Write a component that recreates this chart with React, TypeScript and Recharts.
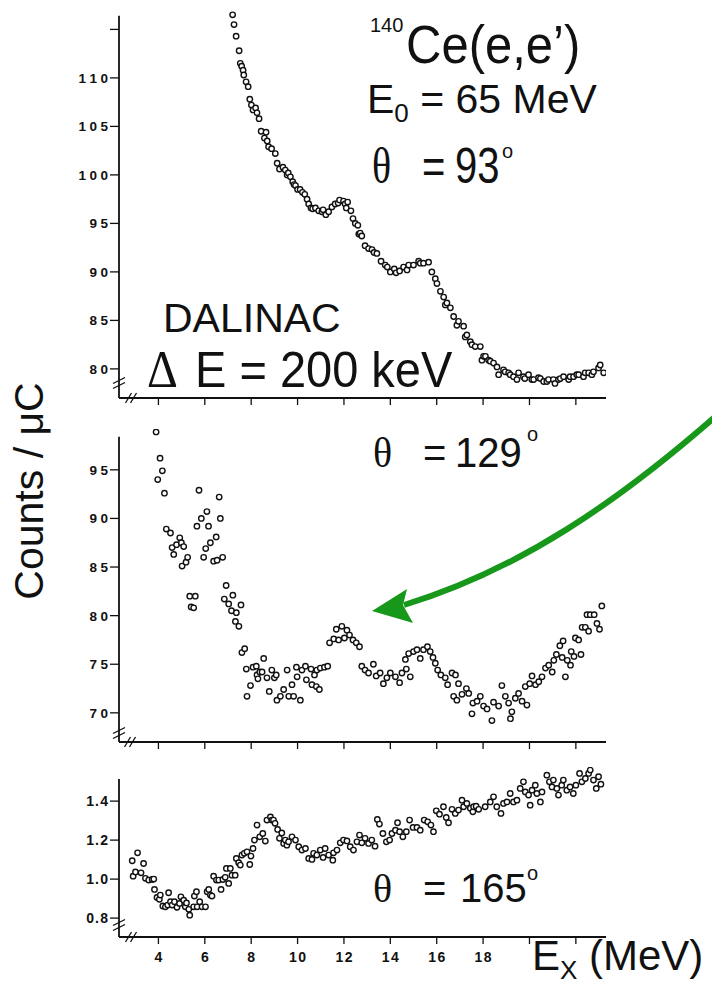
import { ScatterChart, Scatter, XAxis, YAxis, ReferenceLine } from "recharts";

// excitation energy (MeV) and counts/uC
const EX_93 = [
  7.2, 7.26, 7.35, 7.48, 7.53, 7.59, 7.65, 7.68, 7.78, 7.87, 7.94, 8.01, 8.08, 8.19, 8.25, 8.34, 8.43, 8.57,
  8.64, 8.69, 8.75, 8.88, 9.04, 9.12, 9.22, 9.37, 9.47, 9.55, 9.6, 9.69, 9.79, 9.85, 9.91, 10.0, 10.11, 10.21,
  10.31, 10.41, 10.48, 10.58, 10.65, 10.77, 10.91, 11.05, 11.1, 11.22, 11.34, 11.48, 11.62, 11.75, 11.81, 11.98,
  12.05, 12.1, 12.16, 12.3, 12.39, 12.49, 12.6, 12.64, 12.7, 12.77, 12.91, 13.06, 13.21, 13.3, 13.42, 13.6,
  13.78, 13.87, 14.0, 14.17, 14.25, 14.4, 14.57, 14.72, 14.79, 15.0, 15.22, 15.29, 15.43, 15.65, 15.79, 15.94,
  16.01, 16.16, 16.3, 16.37, 16.44, 16.59, 16.73, 16.87, 16.94, 17.16, 17.23, 17.3, 17.45, 17.52, 17.66, 17.88,
  17.95, 18.02, 18.1, 18.24, 18.31, 18.45, 18.6, 18.67, 18.88, 18.95, 19.1, 19.17, 19.31, 19.46, 19.53, 19.74,
  19.8, 19.96, 20.1, 20.18, 20.39, 20.47, 20.61, 20.75, 20.82, 21.03, 21.1, 21.25, 21.33, 21.47, 21.69, 21.75,
  21.9, 22.04, 22.12, 22.33, 22.4, 22.55, 22.69, 22.76, 22.98, 23.05, 23.2,
];
const CNT_93 = [
  116.5, 115.5, 114.3, 112.8, 111.5, 111.2, 110.8, 110.3, 109.6, 109.1, 107.8, 107.2, 106.7, 106.9, 106.4, 105.8,
  104.5, 103.8, 104.4, 103.5, 102.9, 102.7, 102.2, 101.2, 100.6, 100.8, 100.5, 100.0, 100.2, 99.8, 99.3, 99.0,
  98.9, 98.5, 98.5, 98.2, 98.0, 97.5, 97.0, 96.6, 96.5, 96.6, 96.3, 96.2, 96.4, 95.9, 96.2, 96.7, 97.0, 97.1,
  97.4, 97.3, 97.0, 96.6, 97.2, 96.3, 95.5, 95.0, 94.8, 93.9, 94.0, 93.7, 92.7, 92.4, 92.3, 92.0, 91.9, 91.1,
  90.7, 90.5, 90.0, 90.3, 89.9, 90.1, 90.5, 90.2, 90.7, 90.7, 91.1, 90.9, 90.9, 91.0, 90.0, 89.3, 88.8, 88.0,
  87.4, 86.6, 86.8, 86.3, 85.4, 84.5, 84.9, 84.4, 83.3, 83.5, 82.8, 82.5, 82.3, 82.3, 80.9, 81.3, 81.3, 80.9,
  80.8, 80.6, 80.2, 79.4, 79.9, 79.7, 79.6, 79.4, 79.2, 78.9, 79.6, 79.2, 79.0, 79.4, 78.9, 78.9, 79.1, 79.0,
  78.7, 78.7, 78.9, 78.9, 78.5, 78.9, 79.0, 79.2, 78.9, 79.2, 79.2, 79.4, 79.4, 79.2, 79.6, 79.6, 79.4, 79.7,
  80.1, 80.4, 79.6,
];

const EX_129 = [
  3.9, 3.97, 4.07, 4.17, 4.26, 4.34, 4.52, 4.59, 4.66, 4.78, 4.92, 4.99, 5.02, 5.09, 5.19, 5.26, 5.35, 5.41,
  5.52, 5.59, 5.66, 5.75, 5.85, 5.95, 6.04, 6.09, 6.16, 6.24, 6.38, 6.49, 6.53, 6.62, 6.67, 6.77, 6.84, 6.92,
  7.03, 7.15, 7.21, 7.32, 7.36, 7.47, 7.56, 7.6, 7.72, 7.79, 7.82, 7.97, 8.08, 8.22, 8.25, 8.29, 8.37, 8.47,
  8.54, 8.68, 8.78, 8.89, 9.0, 9.08, 9.11, 9.26, 9.4, 9.55, 9.62, 9.76, 9.83, 9.95, 9.98, 10.12, 10.19, 10.34,
  10.38, 10.58, 10.62, 10.73, 10.81, 10.83, 10.94, 10.98, 11.16, 11.3, 11.38, 11.56, 11.67, 11.77, 11.91, 12.02,
  12.13, 12.24, 12.39, 12.53, 12.67, 12.77, 12.91, 13.06, 13.27, 13.39, 13.56, 13.7, 13.85, 14.0, 14.22, 14.4,
  14.5, 14.65, 14.69, 14.79, 14.86, 15.0, 15.15, 15.29, 15.43, 15.6, 15.72, 15.84, 15.94, 16.04, 16.18, 16.37,
  16.47, 16.66, 16.73, 16.81, 16.87, 16.94, 17.09, 17.28, 17.38, 17.52, 17.56, 17.74, 17.88, 18.02, 18.17,
  18.38, 18.45, 18.67, 18.81, 18.96, 19.1, 19.18, 19.24, 19.39, 19.53, 19.68, 19.82, 19.89, 20.01, 20.11,
  20.26, 20.4, 20.54, 20.69, 20.83, 20.98, 21.05, 21.16, 21.31, 21.41, 21.45, 21.55, 21.63, 21.77, 21.8,
  21.92, 21.98, 22.12, 22.22, 22.27, 22.41, 22.48, 22.55, 22.62, 22.79, 22.91, 23.02, 23.12,
];
const CNT_129 = [
  98.9, 94.0, 96.2, 94.9, 92.6, 88.9, 88.5, 87.0, 86.3, 87.3, 88.0, 87.5, 85.1, 87.1, 85.5, 86.0, 82.0, 80.9,
  80.8, 82.0, 89.2, 92.9, 90.0, 86.0, 86.9, 90.7, 89.2, 87.5, 85.6, 88.1, 85.7, 92.2, 90.0, 86.0, 81.7, 83.1,
  81.2, 80.5, 82.1, 79.4, 80.3, 78.9, 81.1, 76.2, 76.6, 74.5, 71.7, 72.8, 74.7, 74.8, 73.9, 73.5, 74.2, 74.2,
  75.6, 73.6, 72.2, 74.4, 73.6, 73.9, 71.3, 71.7, 72.4, 74.4, 71.7, 72.9, 71.7, 74.7, 73.7, 71.3, 74.4, 74.8,
  73.4, 74.5, 72.9, 73.9, 72.7, 74.4, 72.4, 74.6, 74.7, 74.8, 77.2, 77.6, 78.6, 77.5, 78.9, 77.7, 78.5, 78.0,
  77.5, 77.2, 76.8, 74.8, 74.4, 74.1, 75.0, 73.8, 74.1, 73.0, 73.6, 74.1, 73.7, 73.1, 74.1, 75.5, 74.5, 76.1,
  73.7, 76.3, 76.5, 75.6, 76.5, 76.8, 76.3, 75.7, 75.1, 74.4, 73.9, 73.6, 72.9, 74.1, 71.7, 73.9, 71.3, 73.0,
  71.9, 72.5, 72.0, 69.9, 71.0, 71.2, 71.7, 70.7, 70.4, 69.2, 71.1, 70.7, 72.8, 71.7, 71.0, 69.4, 70.1, 71.5,
  72.0, 71.2, 72.7, 70.8, 73.0, 73.8, 72.9, 73.2, 73.7, 74.6, 74.9, 74.2, 75.4, 76.0, 76.9, 75.7, 77.4, 73.7,
  75.4, 74.9, 76.3, 75.8, 77.7, 77.5, 76.0, 78.8, 78.8, 80.1, 78.4, 80.1, 80.1, 79.2, 78.6, 81.0,
];

const EX_165 = [
  2.87, 2.91, 3.01, 3.1, 3.25, 3.36, 3.44, 3.58, 3.73, 3.8, 3.83, 3.94, 4.04, 4.08, 4.19, 4.3, 4.4, 4.44, 4.52,
  4.59, 4.69, 4.8, 4.91, 4.97, 5.09, 5.16, 5.21, 5.31, 5.35, 5.52, 5.55, 5.64, 5.67, 5.78, 5.88, 6.03, 6.1, 6.17,
  6.24, 6.31, 6.38, 6.5, 6.6, 6.7, 6.78, 6.88, 6.93, 7.03, 7.1, 7.17, 7.31, 7.36, 7.46, 7.53, 7.6, 7.7, 7.82,
  7.94, 7.99, 8.08, 8.14, 8.25, 8.37, 8.5, 8.61, 8.68, 8.83, 8.89, 8.96, 9.03, 9.14, 9.22, 9.32, 9.4, 9.47,
  9.54, 9.61, 9.76, 9.91, 10.05, 10.19, 10.34, 10.48, 10.62, 10.69, 10.83, 10.98, 11.1, 11.19, 11.34, 11.52,
  11.55, 11.7, 11.84, 11.98, 12.13, 12.27, 12.41, 12.56, 12.67, 12.77, 12.91, 13.06, 13.2, 13.34, 13.44, 13.53,
  13.68, 13.83, 13.97, 14.07, 14.22, 14.31, 14.4, 14.54, 14.69, 14.83, 14.98, 15.15, 15.29, 15.46, 15.61,
  15.75, 15.86, 15.98, 16.12, 16.29, 16.41, 16.51, 16.66, 16.8, 16.94, 17.09, 17.16, 17.3, 17.45, 17.56, 17.59,
  17.7, 17.81, 18.09, 18.31, 18.45, 18.59, 18.77, 18.88, 19.03, 19.17, 19.31, 19.46, 19.6, 19.74, 19.82, 19.96,
  20.03, 20.11, 20.25, 20.32, 20.47, 20.54, 20.75, 20.86, 20.97, 21.03, 21.18, 21.25, 21.39, 21.46, 21.61,
  21.75, 21.89, 22.0, 22.16, 22.26, 22.41, 22.55, 22.62, 22.76, 22.88, 22.98, 23.08,
];
const CNT_165 = [
  1.094, 1.015, 1.037, 1.135, 1.032, 1.08, 1.004, 0.995, 0.998, 1.0, 0.947, 0.906, 0.896, 0.918, 0.862, 0.858,
  0.867, 0.93, 0.884, 0.867, 0.884, 0.855, 0.875, 0.909, 0.892, 0.858, 0.878, 0.845, 0.815, 0.858, 0.913, 0.935,
  0.858, 0.884, 0.858, 0.858, 0.935, 0.947, 0.918, 0.913, 1.015, 0.995, 0.995, 0.947, 0.998, 1.009, 1.055, 0.978,
  1.055, 1.02, 1.02, 1.106, 1.084, 1.072, 1.123, 1.132, 1.14, 1.075, 1.118, 1.157, 1.2, 1.277, 1.217, 1.234,
  1.195, 1.303, 1.319, 1.303, 1.303, 1.286, 1.255, 1.209, 1.237, 1.183, 1.2, 1.174, 1.191, 1.217, 1.2, 1.166,
  1.149, 1.157, 1.106, 1.101, 1.132, 1.123, 1.149, 1.111, 1.157, 1.123, 1.097, 1.135, 1.149, 1.186, 1.2, 1.196,
  1.166, 1.149, 1.191, 1.226, 1.186, 1.209, 1.183, 1.2, 1.169, 1.306, 1.282, 1.234, 1.191, 1.2, 1.234, 1.251,
  1.289, 1.243, 1.217, 1.243, 1.303, 1.265, 1.265, 1.251, 1.303, 1.294, 1.277, 1.243, 1.35, 1.333, 1.371, 1.316,
  1.289, 1.358, 1.337, 1.354, 1.405, 1.371, 1.388, 1.363, 1.345, 1.371, 1.374, 1.358, 1.371, 1.396, 1.422, 1.371,
  1.337, 1.388, 1.396, 1.439, 1.396, 1.405, 1.465, 1.499, 1.447, 1.431, 1.379, 1.456, 1.482, 1.439, 1.396, 1.447,
  1.533, 1.499, 1.473, 1.508, 1.465, 1.431, 1.482, 1.508, 1.456, 1.473, 1.439, 1.482, 1.542, 1.499, 1.516, 1.542,
  1.559, 1.508, 1.465, 1.525, 1.487,
];

const EX_TICKS = [4, 6, 8, 10, 12, 14, 16, 18, 20, 22];
const EX_LABELS = ["4", "6", "8", "10", "12", "14", "16", "18", "", ""];
const Y93_TICKS = [80, 85, 90, 95, 100, 105, 110, 115];
const Y93_LABELS = ["80", "85", "90", "95", "100", "105", "110", ""];
const Y129_TICKS = [70, 75, 80, 85, 90, 95];
const Y129_LABELS = ["70", "75", "80", "85", "90", "95"];
const Y165_TICKS = [0.8, 1.0, 1.2, 1.4];
const Y165_LABELS = ["0.8", "1.0", "1.2", "1.4"];

const X_MIN = 2.3;
const X_MAX = 23.3;
const SANS = "'Liberation Sans', Arial, Helvetica, sans-serif";
const SERIF = "'Liberation Serif', 'Times New Roman', serif";

const zip = (xs: number[], ys: number[]) => xs.map((x, i) => ({ x, y: ys[i] }));

const Ring = (p: any) => (
  <circle cx={p.cx} cy={p.cy} r={2.7} fill="#fff" stroke="#111" strokeWidth={1.4} />
);

// spaced-out tick label: each glyph placed by hand so the wide look of the scan survives
function Spaced({ label, x, y, fs, gap, anchor }: any) {
  const adv = (c: string) => (c === "." ? 0.278 : 0.556) * fs;
  const chars = String(label).split("");
  const total = chars.reduce((s, c) => s + adv(c), 0) + gap * Math.max(chars.length - 1, 0);
  let cx = anchor === "end" ? x - total : x - total / 2;
  return (
    <text y={y} fontFamily={SANS} fontWeight={700} fontSize={fs} fill="#111">
      {chars.map((c, i) => {
        const px = cx;
        cx += adv(c) + gap;
        return (
          <tspan key={i} x={px}>
            {c}
          </tspan>
        );
      })}
    </text>
  );
}

function Panel(props: {
  data: { x: number; y: number }[];
  top: number;
  height: number;
  plotTop: number;
  xAxisHeight: number;
  yDomain: [number, number];
  axisTop: number;
  yTicks: number[];
  yLabels: string[];
  xLabels: boolean;
  small?: boolean;
}) {
  const { data, top, height, plotTop, xAxisHeight, yDomain, axisTop, yTicks, yLabels, xLabels, small } = props;
  const YTick = ({ x, y, payload }: any) => (
    <Spaced
      label={yLabels[yTicks.indexOf(payload.value)]}
      x={x - 1}
      y={y + 5}
      fs={small ? 14 : 13.5}
      gap={small ? 1.2 : 3.5}
      anchor="end"
    />
  );
  const XTick = ({ x, y, payload }: any) =>
    xLabels ? (
      <Spaced label={EX_LABELS[EX_TICKS.indexOf(payload.value)]} x={x} y={y + 16} fs={14} gap={1.5} anchor="middle" />
    ) : (
      <g />
    );
  return (
    <div style={{ position: "absolute", left: 0, top, width: 712, height }}>
      <ScatterChart width={712} height={height} margin={{ top: plotTop, right: 106, bottom: 0, left: 0 }}>
        <XAxis
          type="number"
          dataKey="x"
          domain={[X_MIN, X_MAX]}
          ticks={EX_TICKS}
          allowDataOverflow
          height={xAxisHeight}
          tickSize={7}
          tickLine={{ stroke: "#111", strokeWidth: 1.3 }}
          axisLine={{ stroke: "#111", strokeWidth: 1.8 }}
          tick={XTick}
        />
        <YAxis
          type="number"
          dataKey="y"
          domain={yDomain}
          ticks={yTicks}
          allowDataOverflow
          width={119}
          tickSize={9}
          tickMargin={1}
          tickLine={{ stroke: "#111", strokeWidth: 1.3 }}
          axisLine={false}
          tick={YTick}
        />
        <ReferenceLine
          segment={[
            { x: X_MIN, y: yDomain[0] },
            { x: X_MIN, y: axisTop },
          ]}
          stroke="#111"
          strokeWidth={1.8}
          ifOverflow="visible"
        />
        <Scatter data={data} shape={Ring} isAnimationActive={false} />
      </ScatterChart>
    </div>
  );
}

// little "//" axis-break marks
const yBreak = (cy: number) =>
  [-2.5, 2.5].map((o) => (
    <line key={"y" + cy + o} x1={113} y1={cy + 3 + o} x2={125} y2={cy - 3 + o} stroke="#111" strokeWidth={1.3} />
  ));
const xBreak = (cx: number, cy: number) =>
  [-2.5, 2.5].map((o) => (
    <line key={"x" + cx + o} x1={cx - 3 + o} y1={cy + 5} x2={cx + 3 + o} y2={cy - 5} stroke="#111" strokeWidth={1.3} />
  ));

function Theta({ x, y, value, sy, digitsX, degX, degY }: any) {
  return (
    <g>
      <g transform={`translate(0 ${y}) scale(1 ${sy})`}>
        <text x={x} y={0} fontFamily={SERIF} fontSize={40} fill="#111">
          θ
        </text>
        <text x={x + 50} y={0} fontFamily={SANS} fontSize={40} fill="#111">
          =
        </text>
        <text x={digitsX} y={0} fontFamily={SANS} fontSize={40} fill="#111">
          {value}
        </text>
      </g>
      <text x={degX} y={degY} fontFamily={SANS} fontSize={20} fill="#111">
        o
      </text>
    </g>
  );
}

export default function App() {
  return (
    <div style={{ position: "absolute", left: 0, top: 0, width: 712, height: 987, background: "#fff" }}>
      <Panel
        data={zip(EX_93, CNT_93)}
        top={0}
        height={410}
        plotTop={10}
        xAxisHeight={12}
        yDomain={[77, 117]}
        axisTop={116.4}
        yTicks={Y93_TICKS}
        yLabels={Y93_LABELS}
        xLabels={false}
      />
      <Panel
        data={zip(EX_129, CNT_129)}
        top={412}
        height={342}
        plotTop={17}
        xAxisHeight={12}
        yDomain={[67, 99.2]}
        axisTop={98.4}
        yTicks={Y129_TICKS}
        yLabels={Y129_LABELS}
        xLabels={false}
      />
      <Panel
        data={zip(EX_165, CNT_165)}
        top={756}
        height={221}
        plotTop={11}
        xAxisHeight={40}
        yDomain={[0.703, 1.575]}
        axisTop={1.513}
        yTicks={Y165_TICKS}
        yLabels={Y165_LABELS}
        xLabels={true}
        small
      />
      <svg width={712} height={987} style={{ position: "absolute", left: 0, top: 0, pointerEvents: "none" }}>
        {yBreak(383)}
        {xBreak(131, 398)}
        {yBreak(733)}
        {xBreak(130, 742)}
        {yBreak(925)}
        {xBreak(131, 937)}

        <text x={370} y={32} fontFamily={SANS} fontSize={20} fill="#111">
          140
        </text>
        <g transform="translate(406 63) scale(1 1.1)">
          <text x={0} y={0} fontFamily={SANS} fontSize={49} fill="#111">
            Ce(e,e’)
          </text>
        </g>
        <text x={367} y={113} fontFamily={SANS} fontSize={41} fill="#111">
          E
          <tspan fontSize={26} dy={9}>
            0
          </tspan>
          <tspan dy={-9}> = 65 MeV</tspan>
        </text>
        <Theta x={372} y={183} value="93" sy={1.25} digitsX={455} degX={502} degY={158} />
        <Theta x={373} y={467} value="129" sy={1.05} digitsX={455} degX={527} degY={441} />
        <Theta x={373} y={902} value="165" sy={1.02} digitsX={460} degX={527} degY={880} />

        <text x={163} y={332} fontFamily={SANS} fontSize={41} fill="#111">
          DALINAC
        </text>
        <g transform="translate(0 387) scale(1 1.08)">
          <text x={147} y={0} fontFamily={SERIF} fontSize={48} fill="#111">
            Δ
          </text>
          <text x={195} y={0} fontFamily={SANS} fontSize={47} fill="#111">
            E = 200 keV
          </text>
        </g>

        <text transform="translate(43 491) rotate(-90)" textAnchor="middle" fontFamily={SANS} fontSize={41} fill="#111">
          Counts / μC
        </text>
        <text x={532} y={970} fontFamily={SANS} fontSize={42} fill="#111">
          E
          <tspan fontSize={26} dy={9}>
            X
          </tspan>
          <tspan dy={-9}> (MeV)</tspan>
        </text>

        <path d="M 716 416 C 620 500, 520 570, 404 605" fill="none" stroke="#17981a" strokeWidth={6} />
        <polygon points="372,611 407,589 403,605 413,623" fill="#17981a" />
      </svg>
    </div>
  );
}
